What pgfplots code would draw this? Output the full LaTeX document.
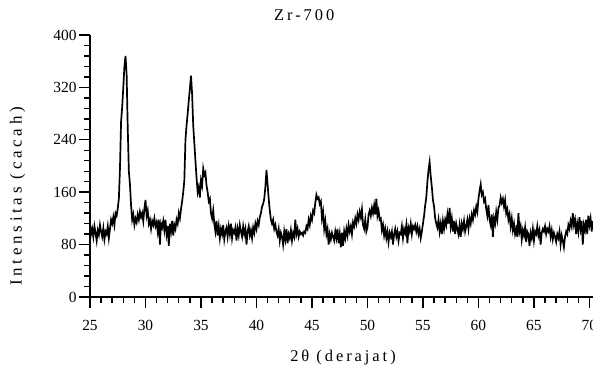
\documentclass[border=0pt]{standalone}
\usepackage{pgfplots}
\pgfplotsset{compat=1.18}
\usepackage{fontspec}
\setmainfont{Liberation Serif}
\newfontfamily\spaced[LetterSpace=18]{Liberation Serif}
\newfontfamily\wspaced[LetterSpace=22]{Liberation Serif}
\begin{document}
\begin{tikzpicture}
\begin{axis}[
  at={(0,0)}, anchor=south west,
  scale only axis, width=503bp, height=262bp,
  xmin=25, xmax=70.32, ymin=0, ymax=400,
  axis x line*=bottom, axis y line*=left,
  axis line style={-, line width=1.4bp, black},
  xtick={25,30,...,70}, ytick={0,80,...,400},
  minor x tick num=4, minor y tick num=4,
  tick align=outside,
  major tick length=11bp, minor tick length=5.5bp,
  every tick/.style={black, line width=1.4bp},
  /pgf/number format/assume math mode=true,
  tick label style={font=\fontsize{15.5}{17}\selectfont},
  xticklabel style={yshift=-9bp},
  yticklabel style={xshift=1bp},
  title={\spaced\fontsize{16.5}{18}\selectfont Zr-700},
  title style={at={(rel axis cs:0.426,1)}, anchor=center, yshift=14bp},
  xlabel={\spaced\fontsize{16.5}{18}\selectfont 2θ (derajat)},
  every axis x label/.style={at={(rel axis cs:0.503,0)}, anchor=center, yshift=-61bp},
  ylabel={\wspaced\fontsize{17}{19}\selectfont Intensitas (cacah)},
  every axis y label/.style={at={(rel axis cs:0,0.384)}, xshift=-72.5bp, rotate=90, anchor=center},
  clip=false,
]
\addplot[black, line width=1.7bp, mark=none] table[row sep=\\] {
x y\\
25.0 112\\ 25.1 96\\ 25.2 104\\ 25.3 92\\ 25.4 108\\ 25.5 98\\ 25.6 86\\ 25.7 102\\ 25.8 95\\ 25.9 110\\
26.0 100\\ 26.1 92\\ 26.2 105\\ 26.3 88\\ 26.4 100\\ 26.5 96\\ 26.6 108\\ 26.7 90\\ 26.8 104\\ 26.9 118\\
27.0 112\\ 27.1 122\\ 27.2 110\\ 27.3 128\\ 27.4 124\\ 27.5 135\\ 27.6 150\\ 27.7 196\\ 27.8 268\\ 27.9 290\\
28.0 320\\ 28.1 352\\ 28.2 368\\ 28.3 340\\ 28.4 258\\ 28.5 192\\ 28.6 172\\ 28.7 140\\ 28.8 118\\ 28.9 126\\
29.0 110\\ 29.1 120\\ 29.2 114\\ 29.3 126\\ 29.4 118\\ 29.5 130\\ 29.6 122\\ 29.7 128\\ 29.8 116\\ 29.9 135\\
30.0 148\\ 30.1 124\\ 30.2 132\\ 30.3 112\\ 30.4 118\\ 30.5 104\\ 30.6 116\\ 30.7 110\\ 30.8 120\\ 30.9 108\\
31.0 114\\ 31.1 100\\ 31.2 118\\ 31.3 80\\ 31.4 112\\ 31.5 106\\ 31.6 116\\ 31.7 102\\ 31.8 118\\ 31.9 96\\
32.0 108\\ 32.1 78\\ 32.2 112\\ 32.3 100\\ 32.4 116\\ 32.5 94\\ 32.6 110\\ 32.7 104\\ 32.8 118\\ 32.9 112\\
33.0 128\\ 33.1 120\\ 33.2 134\\ 33.3 146\\ 33.4 160\\ 33.5 178\\ 33.6 240\\ 33.7 262\\ 33.8 280\\ 33.9 300\\
34.0 318\\ 34.1 338\\ 34.2 310\\ 34.3 262\\ 34.4 235\\ 34.5 208\\ 34.6 182\\ 34.7 160\\ 34.8 168\\ 34.9 152\\
35.0 178\\ 35.1 170\\ 35.2 196\\ 35.3 186\\ 35.4 190\\ 35.5 170\\ 35.6 160\\ 35.7 146\\ 35.8 150\\ 35.9 128\\
36.0 120\\ 36.1 132\\ 36.2 112\\ 36.3 100\\ 36.4 116\\ 36.5 94\\ 36.6 108\\ 36.7 90\\ 36.8 104\\ 36.9 96\\
37.0 110\\ 37.1 88\\ 37.2 100\\ 37.3 106\\ 37.4 92\\ 37.5 108\\ 37.6 96\\ 37.7 112\\ 37.8 90\\ 37.9 102\\
38.0 98\\ 38.1 106\\ 38.2 86\\ 38.3 104\\ 38.4 94\\ 38.5 110\\ 38.6 100\\ 38.7 92\\ 38.8 108\\ 38.9 96\\
39.0 104\\ 39.1 80\\ 39.2 100\\ 39.3 108\\ 39.4 94\\ 39.5 102\\ 39.6 90\\ 39.7 106\\ 39.8 98\\ 39.9 112\\
40.0 104\\ 40.1 116\\ 40.2 110\\ 40.3 122\\ 40.4 128\\ 40.5 138\\ 40.6 142\\ 40.7 150\\ 40.8 168\\ 40.9 194\\
41.0 172\\ 41.1 150\\ 41.2 132\\ 41.3 118\\ 41.4 112\\ 41.5 118\\ 41.6 104\\ 41.7 110\\ 41.8 100\\ 41.9 94\\
42.0 104\\ 42.1 86\\ 42.2 98\\ 42.3 92\\ 42.4 80\\ 42.5 100\\ 42.6 88\\ 42.7 104\\ 42.8 82\\ 42.9 96\\
43.0 90\\ 43.1 102\\ 43.2 86\\ 43.3 98\\ 43.4 92\\ 43.5 118\\ 43.6 96\\ 43.7 104\\ 43.8 92\\ 43.9 100\\
44.0 96\\ 44.1 98\\ 44.2 94\\ 44.3 100\\ 44.4 98\\ 44.5 108\\ 44.6 104\\ 44.7 118\\ 44.8 110\\ 44.9 124\\
45.0 118\\ 45.1 132\\ 45.2 128\\ 45.3 144\\ 45.4 156\\ 45.5 150\\ 45.6 152\\ 45.7 142\\ 45.8 146\\ 45.9 120\\
46.0 130\\ 46.1 104\\ 46.2 116\\ 46.3 96\\ 46.4 104\\ 46.5 80\\ 46.6 96\\ 46.7 88\\ 46.8 98\\ 46.9 92\\
47.0 86\\ 47.1 100\\ 47.2 90\\ 47.3 104\\ 47.4 82\\ 47.5 96\\ 47.6 76\\ 47.7 98\\ 47.8 78\\ 47.9 100\\
48.0 90\\ 48.1 104\\ 48.2 94\\ 48.3 110\\ 48.4 100\\ 48.5 108\\ 48.6 96\\ 48.7 114\\ 48.8 108\\ 48.9 120\\
49.0 112\\ 49.1 126\\ 49.2 118\\ 49.3 130\\ 49.4 122\\ 49.5 134\\ 49.6 110\\ 49.7 104\\ 49.8 118\\ 49.9 100\\
50.0 106\\ 50.1 126\\ 50.2 132\\ 50.3 124\\ 50.4 136\\ 50.5 128\\ 50.6 140\\ 50.7 126\\ 50.8 150\\ 50.9 124\\
51.0 132\\ 51.1 118\\ 51.2 120\\ 51.3 102\\ 51.4 110\\ 51.5 94\\ 51.6 104\\ 51.7 90\\ 51.8 100\\ 51.9 84\\
52.0 98\\ 52.1 92\\ 52.2 100\\ 52.3 80\\ 52.4 96\\ 52.5 104\\ 52.6 92\\ 52.7 100\\ 52.8 86\\ 52.9 98\\
53.0 96\\ 53.1 108\\ 53.2 90\\ 53.3 104\\ 53.4 98\\ 53.5 110\\ 53.6 82\\ 53.7 106\\ 53.8 100\\ 53.9 112\\
54.0 96\\ 54.1 108\\ 54.2 104\\ 54.3 110\\ 54.4 100\\ 54.5 108\\ 54.6 96\\ 54.7 104\\ 54.8 90\\ 54.9 100\\
55.0 112\\ 55.1 124\\ 55.2 140\\ 55.3 152\\ 55.4 176\\ 55.5 194\\ 55.6 206\\ 55.7 184\\ 55.8 168\\ 55.9 148\\
56.0 138\\ 56.1 120\\ 56.2 112\\ 56.3 106\\ 56.4 118\\ 56.5 100\\ 56.6 112\\ 56.7 96\\ 56.8 116\\ 56.9 104\\
57.0 118\\ 57.1 110\\ 57.2 126\\ 57.3 112\\ 57.4 136\\ 57.5 108\\ 57.6 120\\ 57.7 100\\ 57.8 116\\ 57.9 96\\
58.0 112\\ 58.1 104\\ 58.2 96\\ 58.3 110\\ 58.4 92\\ 58.5 112\\ 58.6 104\\ 58.7 116\\ 58.8 100\\ 58.9 108\\
59.0 118\\ 59.1 104\\ 59.2 120\\ 59.3 112\\ 59.4 126\\ 59.5 118\\ 59.6 132\\ 59.7 126\\ 59.8 138\\ 59.9 130\\
60.0 150\\ 60.1 162\\ 60.2 172\\ 60.3 156\\ 60.4 160\\ 60.5 146\\ 60.6 150\\ 60.7 134\\ 60.8 124\\ 60.9 140\\
61.0 118\\ 61.1 110\\ 61.2 126\\ 61.3 92\\ 61.4 120\\ 61.5 112\\ 61.6 130\\ 61.7 118\\ 61.8 136\\ 61.9 140\\
62.0 152\\ 62.1 144\\ 62.2 150\\ 62.3 138\\ 62.4 148\\ 62.5 128\\ 62.6 134\\ 62.7 118\\ 62.8 126\\ 62.9 108\\
63.0 120\\ 63.1 102\\ 63.2 112\\ 63.3 96\\ 63.4 104\\ 63.5 92\\ 63.6 128\\ 63.7 100\\ 63.8 108\\ 63.9 88\\
64.0 102\\ 64.1 94\\ 64.2 106\\ 64.3 84\\ 64.4 100\\ 64.5 96\\ 64.6 78\\ 64.7 98\\ 64.8 90\\ 64.9 104\\
65.0 86\\ 65.1 100\\ 65.2 96\\ 65.3 108\\ 65.4 94\\ 65.5 102\\ 65.6 80\\ 65.7 98\\ 65.8 104\\ 65.9 100\\
66.0 108\\ 66.1 96\\ 66.2 104\\ 66.3 100\\ 66.4 108\\ 66.5 92\\ 66.6 102\\ 66.7 88\\ 66.8 98\\ 66.9 92\\
67.0 84\\ 67.1 96\\ 67.2 90\\ 67.3 100\\ 67.4 80\\ 67.5 94\\ 67.6 86\\ 67.7 76\\ 67.8 92\\ 67.9 100\\
68.0 96\\ 68.1 110\\ 68.2 104\\ 68.3 116\\ 68.4 108\\ 68.5 128\\ 68.6 110\\ 68.7 118\\ 68.8 96\\ 68.9 112\\
69.0 100\\ 69.1 122\\ 69.2 104\\ 69.3 116\\ 69.4 80\\ 69.5 110\\ 69.6 102\\ 69.7 118\\ 69.8 96\\ 69.9 124\\
70.0 110\\ 70.1 120\\ 70.2 100\\ 70.3 116\\
};
\end{axis}
\pgfresetboundingbox
\path[use as bounding box] (-90bp,-79bp) rectangle (503bp,297bp);
\end{tikzpicture}
\end{document}
